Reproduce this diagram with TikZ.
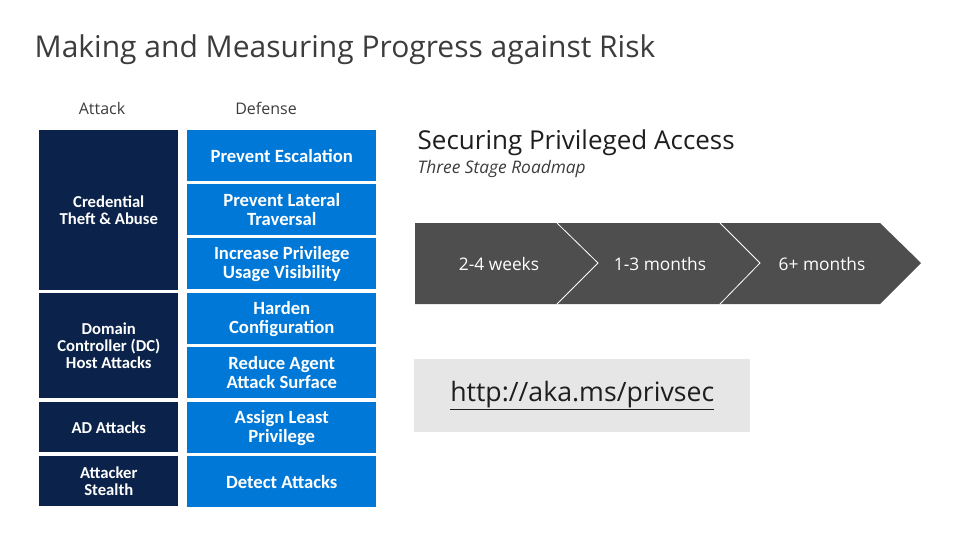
\documentclass[tikz,border=0pt]{standalone}
\usepackage{fontspec}
\setmainfont{Open Sans}
\newfontfamily\boxfont{Carlito}
\begin{document}
\begin{tikzpicture}[x=0.75pt,y=-0.75pt,
  attackbox/.style={fill={rgb,255:red,11;green,35;blue,75},draw=none,font=\boxfont\bfseries\fontsize{12.5}{13}\selectfont,text=white,align=center,anchor=north west,inner sep=0pt},
  defbox/.style={fill={rgb,255:red,0;green,120;blue,215},draw=none,font=\boxfont\bfseries\fontsize{14}{14.5}\selectfont,text=white,align=center,anchor=north west,inner sep=0pt},
  chevtext/.style={text=white,font=\fontsize{13}{15}\selectfont}]
\useasboundingbox (0,0) rectangle (979,551);
\node[anchor=west,font=\fontsize{22.5}{26}\selectfont,text={rgb,255:red,60;green,60;blue,60}] (title) at (30,50) {Making and Measuring Progress against Risk};
\node[font=\fontsize{12}{14}\selectfont,text={rgb,255:red,60;green,60;blue,60}] (hatt) at (102,108) {Attack};
\node[font=\fontsize{12}{14}\selectfont,text={rgb,255:red,60;green,60;blue,60}] (hdef) at (266,108) {Defense};
% attack
\node[attackbox,minimum width=139*0.75pt,minimum height=160*0.75pt] (a1) at (39,130) {Credential\\Theft \& Abuse};
\node[attackbox,minimum width=139*0.75pt,minimum height=105*0.75pt] (a2) at (39,293) {Domain\\Controller (DC)\\Host Attacks};
\node[attackbox,minimum width=139*0.75pt,minimum height=50*0.75pt] (a3) at (39,402) {AD Attacks};
\node[attackbox,minimum width=139*0.75pt,minimum height=50*0.75pt] (a4) at (39,456) {Attacker\\Stealth};
% defense
\foreach \n/\y/\t in {d1/130/{Prevent Escalation},d2/184/{Prevent Lateral\\Traversal},d3/238/{Increase Privilege\\Usage Visibility},d4/293/{Harden\\Configuration},d5/347/{Reduce Agent\\Attack Surface},d6/402/{Assign Least\\Privilege},d7/456/{Detect Attacks}}
  \node[defbox,minimum width=189*0.75pt,minimum height=51*0.75pt] (\n) at (187,\y) {\t};
% right
\node[anchor=west,font=\fontsize{19.5}{22}\selectfont,text={rgb,255:red,30;green,30;blue,30}] (sp) at (413,143) {Securing Privileged Access};
\node[anchor=west,font=\itshape\fontsize{13}{15}\selectfont,text={rgb,255:red,60;green,60;blue,60}] (tsr) at (413,169) {Three Stage Roadmap};
\fill[fill={rgb,255:red,78;green,78;blue,78}] (415,223) -- (880,223) -- (921,263) -- (880,304) -- (415,304) -- cycle;
\draw[white,line width=0.6pt] (557,223) -- (598,263) -- (557,304);
\draw[white,line width=0.6pt] (720,223) -- (760,263) -- (720,304);
\node[chevtext] (c1) at (499,264) {2-4 weeks};
\node[chevtext] (c2) at (660,264) {1-3 months};
\node[chevtext] (c3) at (822,264) {6+ months};
\node[fill={rgb,255:red,230;green,230;blue,230},anchor=north west,minimum width=336*0.75pt,minimum height=73*0.75pt,inner sep=0pt,font=\fontsize{20}{22}\selectfont,text={rgb,255:red,30;green,30;blue,30}] (url) at (414,359) {\underline{http://aka.ms/privsec}};
\end{tikzpicture}
\end{document}
